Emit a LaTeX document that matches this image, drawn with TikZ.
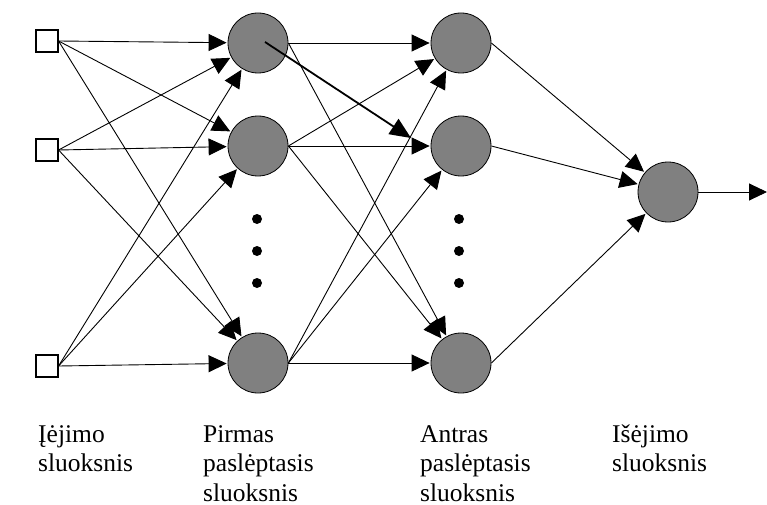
\documentclass[tikz,border=0pt]{standalone}
\usepackage{fontspec}
\setmainfont{Liberation Serif}
\usetikzlibrary{arrows.meta}
\definecolor{neurongray}{HTML}{808080}
\begin{document}
\begin{tikzpicture}[x=1pt,y=-1pt,
  inunit/.style={rectangle,draw=black,fill=white,line width=1.1pt,minimum size=22pt,inner sep=0pt},
  neuron/.style={circle,draw=black,fill=neurongray,line width=0.8pt,minimum size=60pt,inner sep=0pt},
  link/.style={line width=0.9pt,-{Triangle[length=18pt,width=17pt]},shorten >=1pt},
  boldlink/.style={line width=1.8pt,-{Triangle[length=21pt,width=18pt]}},
  vdot/.style={circle,fill=black,minimum size=10pt,inner sep=0pt},
  % captions are placed by the baseline of their last line
  caption/.style={anchor=base west,align=left,inner sep=0pt,font=\fontsize{25.5}{29.5}\selectfont}]
  \useasboundingbox (0,0) rectangle (767,505);

  % input layer
  \node[inunit] (i1) at (47,41) {};
  \node[inunit] (i2) at (47,150) {};
  \node[inunit] (i3) at (47,366) {};

  % first hidden layer
  \node[neuron] (a1) at (258,43) {};
  \node[neuron] (a2) at (258,146) {};
  \node[neuron] (a3) at (258,363) {};

  % second hidden layer
  \node[neuron] (b1) at (461,43) {};
  \node[neuron] (b2) at (461,146) {};
  \node[neuron] (b3) at (461,363) {};

  % output layer
  \node[neuron] (o) at (668,192) {};
  \coordinate (out) at (767,192);

  % ellipsis dots between the second and the last neuron of each hidden layer
  \foreach \y [count=\k] in {219,251,283} {
    \node[vdot] (da\k) at (257,\y) {};
    \node[vdot] (db\k) at (459,\y) {};
  }

  % input -> first hidden layer
  \foreach \s in {1,2,3} \foreach \t in {1,2,3}
    \draw[link] (i\s.east) -- (a\t);

  % first hidden -> second hidden layer
  \foreach \s/\t in {1/1,1/3,2/1,2/2,2/3,3/1,3/2,3/3}
    \draw[link] (a\s.east) -- (b\t);

  % highlighted connection
  \coordinate (hs) at (265,42);
  \coordinate (ht) at (411,138);
  \draw[boldlink] (hs) -- (ht);

  % second hidden -> output
  \foreach \s in {1,2,3}
    \draw[link] (b\s.east) -- (o);
  \draw[link,shorten >=0pt] (o.east) -- (out);

  % layer captions
  \node[caption] (c1) at (38,471.5) {Įėjimo\\sluoksnis};
  \node[caption] (c2) at (203,501) {Pirmas\\paslėptasis\\sluoksnis};
  \node[caption] (c3) at (420,501) {Antras\\paslėptasis\\sluoksnis};
  \node[caption] (c4) at (612,471.5) {Išėjimo\\sluoksnis};
\end{tikzpicture}
\end{document}
